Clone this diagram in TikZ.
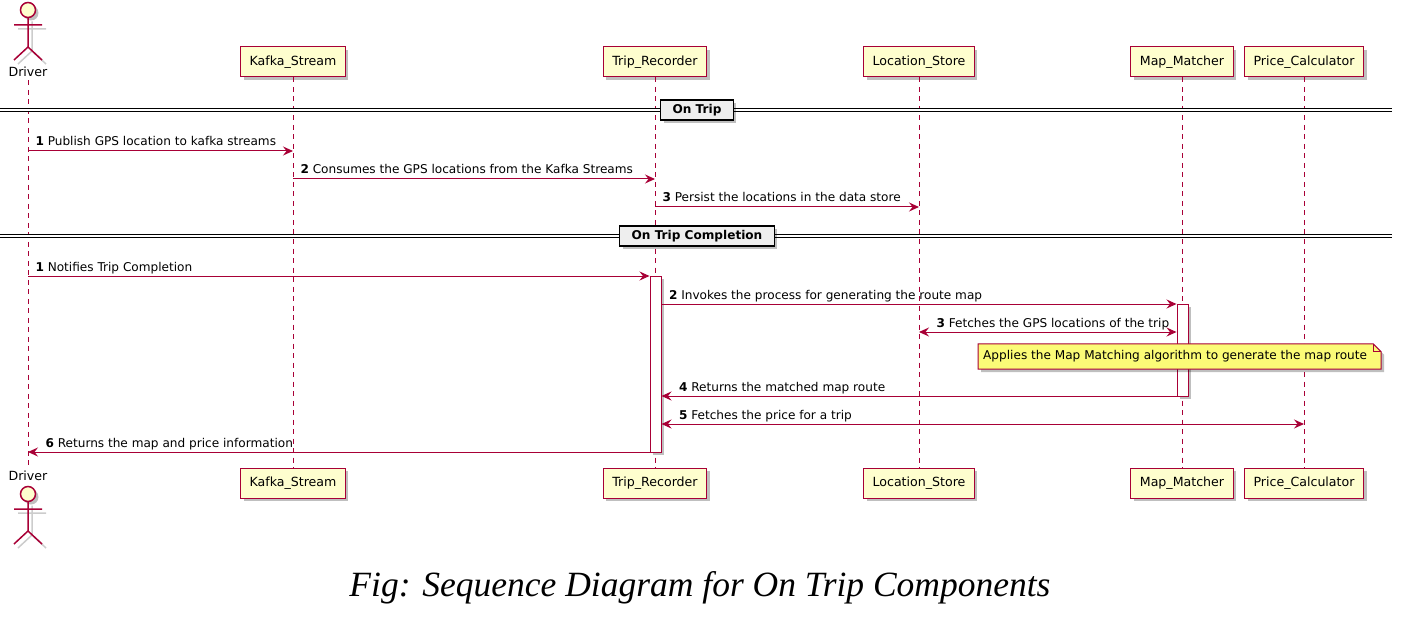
\documentclass[tikz,border=0pt]{standalone}
\usepackage{fontspec}
\setmainfont{DejaVu Sans}
\newfontfamily\capfont{Liberation Serif}
\usetikzlibrary{
  arrows.meta,
  shadows,
}
\definecolor{umlred}{HTML}{A80036}
\definecolor{umlfill}{HTML}{FEFECE}
\definecolor{notefill}{HTML}{FBFB77}
\definecolor{divfill}{HTML}{EEEEEE}
\newcommand\boxfont{\fontsize{12.6}{15}\selectfont}
\newcommand\msgfont{\fontsize{12.1}{14}\selectfont}

\begin{document}
\begin{tikzpicture}[x=1pt, y=-1pt,
  shade/.style={drop shadow={shadow xshift=3pt, shadow yshift=-3pt, fill=black, opacity=.25}},
  participant/.style={draw=umlred, line width=1pt, fill=umlfill, shade, minimum height=30pt, inner xsep=9pt, font=\boxfont},
  lifeline/.style={umlred, line width=1pt, dash pattern=on 5pt off 4.5pt},
  tip/.tip={Stealth[length=10pt, width=9pt, inset=3.5pt]},
  msg/.style={umlred, line width=1pt, -tip},
  both/.style={msg, tip-tip},
  msgtext/.style={text=black, font=\msgfont, anchor=base west, inner sep=0pt, yshift=5pt},
  activation/.style={draw=umlred, line width=1pt, fill=white, shade, minimum width=11pt, inner sep=0pt},
  divider/.style={draw, line width=1.2pt, fill=divfill, shade, font=\msgfont\bfseries, minimum height=20pt, inner xsep=12pt, inner ysep=0pt},
]
\useasboundingbox (0,0) rectangle (1412,628);

% actors
\foreach \dy in {0,484} {
  \begin{scope}[shift={(0,\dy)}]
    \draw[black!20, line width=1.5pt] (32,21.5) -- (32,51) (18,29) -- (46,29) (18,64) -- (32,51) -- (46,64);
    \draw[umlred, line width=1.5pt, fill=umlfill, shade] (28,10) circle[radius=7.5];
    \draw[umlred, line width=1.5pt] (28,17.5) -- (28,47) (14,25) -- (42,25) (14,60) -- (28,47) -- (42,60);
  \end{scope}
}
\node[font=\boxfont] (drv-top) at (28,72) {Driver};
\node[font=\boxfont] (drv-bot) at (28,476) {Driver};
\draw[lifeline] (drv-top) -- (drv-bot);

% participants
\foreach \n/\x/\t in {kafka/293/Kafka\_Stream, trip/655/Trip\_Recorder, loc/919/Location\_Store, map/1182/Map\_Matcher, price/1304/Price\_Calculator} {
  \node[participant] (\n-top) at (\x,62) {\t};
  \node[participant] (\n-bot) at (\x,483) {\t};
  \draw[lifeline] (\n-top) -- (\n-bot);
}

% dividers
\foreach \y/\t/\n in {110/On Trip/div1, 236/On Trip Completion/div2} {
  \draw[line width=1pt, double distance=1.5pt] (0,\y) -- (1392,\y);
  \node[divider] (\n) at (697,\y) {\t};
}

\foreach \n/\y in {r1/151, r2/179, r3/207, s1/276, s2/304, s3/332, s4/396, s5/424, s6/452}
  \coordinate (\n) at (0,\y);

\node[activation, minimum height=176pt] (act-trip) at (655.5,364) {};
\node[activation, minimum height=92pt] (act-map) at (1182.5,350) {};

% messages
\draw[msg] (drv-top |- r1) -- (kafka-top |- r1) node[pos=0, msgtext, xshift=7pt] {\textbf{1} Publish GPS location to kafka streams};
\draw[msg] (kafka-top |- r2) -- (trip-top |- r2) node[pos=0, msgtext, xshift=7pt] {\textbf{2} Consumes the GPS locations from the Kafka Streams};
\draw[msg] (trip-top |- r3) -- (loc-top |- r3) node[pos=0, msgtext, xshift=7pt] {\textbf{3} Persist the locations in the data store};
\draw[msg] (drv-top |- s1) -- (act-trip.west |- s1) node[pos=0, msgtext, xshift=7pt] {\textbf{1} Notifies Trip Completion};
\draw[msg] (act-trip.east |- s2) -- (act-map.west |- s2) node[pos=0, msgtext, xshift=7pt] {\textbf{2} Invokes the process for generating the route map};
\draw[both] (loc-top |- s3) -- (act-map.west |- s3) node[pos=0, msgtext, xshift=17pt] {\textbf{3} Fetches the GPS locations of the trip};
\draw[msg] (act-map.west |- s4) -- (act-trip.east |- s4) node[pos=1, msgtext, xshift=17pt] {\textbf{4} Returns the matched map route};
\draw[both] (act-trip.east |- s5) -- (price-top |- s5) node[pos=0, msgtext, xshift=17pt] {\textbf{5} Fetches the price for a trip};
\draw[msg] (act-trip.west |- s6) -- (drv-top |- s6) node[pos=1, msgtext, xshift=17pt] {\textbf{6} Returns the map and price information};

% note
\node[font=\msgfont, anchor=west, minimum height=25pt, inner xsep=5pt] (note) at (978,356.5) {Applies the Map Matching algorithm to generate the map route};
\draw[umlred, line width=1pt, fill=notefill, shade] (note.north west) -- ([xshift=1pt]note.north east) -- ([xshift=9pt, yshift=-8pt]note.north east) -- ([xshift=9pt]note.south east) -- (note.south west) -- cycle;
\draw[umlred, line width=1pt] ([xshift=1pt]note.north east) |- ([xshift=9pt, yshift=-8pt]note.north east);
\node[font=\msgfont, anchor=west, minimum height=25pt, inner xsep=5pt] at (note.west) {Applies the Map Matching algorithm to generate the map route};

% caption
\node[font=\capfont\itshape\fontsize{35.5}{40}\selectfont, anchor=base] (caption) at (700,596) {Fig: Sequence Diagram for On Trip Components};
\end{tikzpicture}
\end{document}
